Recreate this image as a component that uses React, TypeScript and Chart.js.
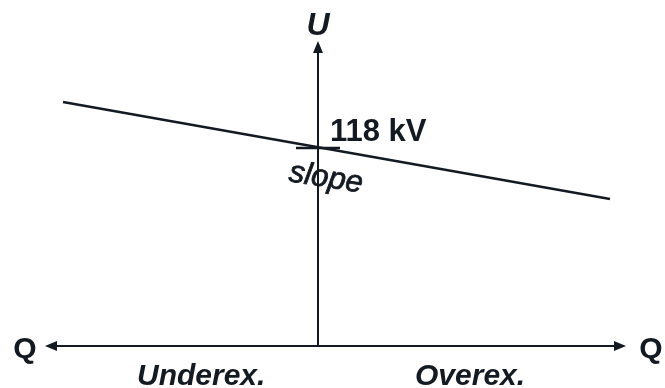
import React, { useEffect, useRef } from "react";
import { Chart, registerables } from "chart.js";

Chart.register(...registerables);

// Diagram units: Q (horizontal) and U (vertical), origin where the axes cross
const qAxisQ = [-273, 308];
const qAxisU = [0, 0];
const uAxisQ = [0, 0];
const uAxisU = [0, 305];
const droopQ = [-255, 292];
const droopU = [244, 147];
const tickQ = [-22, 22];
const tickU = [198, 198];

const labelTexts = ["U", "Q", "Q", "118 kV", "slope", "Underex.", "Overex."];
const labelQ = [0, -293, 333, 12, -30, -181, 97];
const labelU = [311, -12, -12, 205, 165, -39, -39];

const pts = (xs: number[], ys: number[]) => xs.map((x, i) => ({ x, y: ys[i] }));

export default function App() {
  const ref = useRef<HTMLCanvasElement | null>(null);
  useEffect(() => {
    document.body.style.margin = "0";
    const canvas = ref.current!;
    const ink = "#141a22";
    const overlay = {
      id: "overlay",
      afterDatasetsDraw(chart: any) {
        const ctx = chart.ctx as CanvasRenderingContext2D;
        const xs = chart.scales.x;
        const ys = chart.scales.y;
        const px = (v: number) => xs.getPixelForValue(v);
        const py = (v: number) => ys.getPixelForValue(v);
        const arrow = (tx: number, ty: number, dx: number, dy: number) => {
          const len = 12, hw = 5;
          const bx = tx - dx * len, by = ty - dy * len;
          ctx.beginPath();
          ctx.moveTo(tx, ty);
          ctx.lineTo(bx - dy * hw, by + dx * hw);
          ctx.lineTo(bx + dy * hw, by - dx * hw);
          ctx.closePath();
          ctx.fill();
        };
        ctx.save();
        ctx.fillStyle = ink;
        arrow(px(qAxisQ[0]), py(qAxisU[0]), -1, 0);
        arrow(px(qAxisQ[1]), py(qAxisU[1]), 1, 0);
        arrow(px(uAxisQ[1]), py(uAxisU[1]), 0, -1);
        const fam = '"Liberation Sans", Arial, sans-serif';
        const styles = [
          "italic bold 32px",
          "bold 30px",
          "bold 30px",
          "bold 31px",
          "italic 31px",
          "italic bold 30px",
          "italic bold 30px",
        ];
        const aligns: CanvasTextAlign[] = ["center", "center", "center", "left", "left", "left", "left"];
        ctx.textBaseline = "alphabetic";
        labelTexts.forEach((t, i) => {
          ctx.save();
          ctx.font = styles[i] + " " + fam;
          ctx.textAlign = aligns[i];
          ctx.translate(px(labelQ[i]), py(labelU[i]));
          if (t === "slope") ctx.rotate((9 * Math.PI) / 180);
          if (t === "slope") {
            ctx.strokeStyle = ink;
            ctx.lineWidth = 0.8;
            ctx.strokeText(t, 0, 0);
          }
          ctx.fillText(t, 0, 0);
          ctx.restore();
        });
        ctx.restore();
      },
    };
    const line = (data: any, w: number) => ({
      data,
      showLine: true,
      borderColor: ink,
      borderWidth: w,
      pointRadius: 0,
      fill: false,
    });
    const chart = new Chart(canvas, {
      type: "scatter",
      data: {
        datasets: [
          line(pts([qAxisQ[0] + 6, qAxisQ[1] - 6], qAxisU), 2),
          line(pts(uAxisQ, [uAxisU[0], uAxisU[1] - 6]), 2),
          line(pts(droopQ, droopU), 2.5),
          line(pts(tickQ, tickU), 2.5),
        ],
      },
      options: {
        animation: false,
        responsive: false,
        layout: { padding: 0 },
        plugins: { legend: { display: false }, tooltip: { enabled: false } },
        scales: {
          x: { type: "linear", min: -318, max: 347, display: false },
          y: { type: "linear", min: -42, max: 346, display: false },
        },
      },
      plugins: [overlay],
    } as any);
    return () => chart.destroy();
  }, []);
  return (
    <div style={{ width: 665, height: 388, background: "#fff" }}>
      <canvas ref={ref} width={665} height={388} />
    </div>
  );
}
